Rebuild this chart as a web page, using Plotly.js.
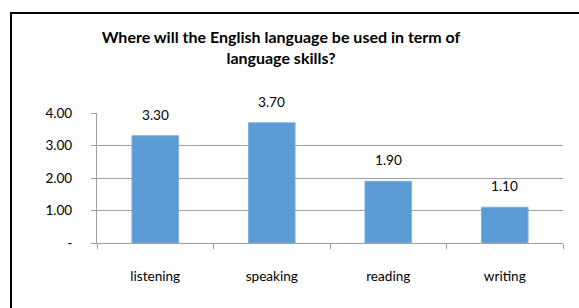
<!DOCTYPE html>
<html>
<head>
<meta charset="utf-8">
<script src="https://cdn.plot.ly/plotly-3.0.1.min.js"></script>
<style>
html,body{margin:0;padding:0;background:#fff;}
#chart{width:579px;height:308px;}
</style>
</head>
<body>
<div id="chart"></div>
<script>
const categories = ["listening", "speaking", "reading", "writing"];
const values = [3.30, 3.70, 1.90, 1.10];
const yTickVals = [0, 1, 2, 3, 4];
const yTickText = ["-", "1.00", "2.00", "3.00", "4.00"];
const titleLines = ["Where will the English language be used in term of", "language skills?"];

const W = 579, H = 308;
const ml = 97, mr = 16, mt = 113, mb = 65;
const pw = W - ml - mr, ph = H - mt - mb;
const px2x = p => (p - ml) / pw;
const py2y = p => (H - mb - p) / ph;

const font = "Lato, 'Liberation Sans', Arial, sans-serif";
const fs = 13.6;

const trace = {
  type: "bar",
  x: categories,
  y: values,
  marker: {color: "#5b9bd5", line: {color: "#7fb0de", width: 1}},
  hoverinfo: "none"
};

const labelAnns = categories.map((c, i) => ({
  x: c, y: values[i], xref: "x", yref: "y",
  text: values[i].toFixed(2),
  showarrow: false, yshift: 21,
  font: {family: font, size: fs, color: "#000"}
}));

const layout = {
  width: W, height: H,
  margin: {l: ml, r: mr, t: mt, b: mb, pad: 0},
  paper_bgcolor: "#fff", plot_bgcolor: "#fff",
  showlegend: false,
  bargap: 0.6,
  font: {family: font, size: fs, color: "#000"},
  title: {
    text: "<b>" + titleLines.join("<br>") + "</b>",
    xref: "paper", x: px2x(281), xanchor: "center",
    yref: "container", y: 1 - 43 / H, yanchor: "middle",
    font: {family: font, size: 16, color: "#000"}
  },
  xaxis: {
    type: "category",
    showgrid: false,
    showline: true, linecolor: "#a0a0a0", linewidth: 1,
    ticks: "outside", tickson: "boundaries", ticklen: 5, tickcolor: "#a0a0a0",
    tickfont: {family: font, size: fs, color: "#000"},
    ticklabelstandoff: 21,
    fixedrange: true
  },
  yaxis: {
    range: [0, 4],
    tickvals: yTickVals, ticktext: yTickText,
    showgrid: true, gridcolor: "#a0a0a0", gridwidth: 1,
    showline: true, linecolor: "#a0a0a0", linewidth: 1,
    ticks: "outside", ticklen: 5, tickcolor: "#a0a0a0",
    tickfont: {family: font, size: fs, color: "#000"},
    ticklabelstandoff: 16,
    zeroline: false,
    fixedrange: true
  },
  annotations: labelAnns,
  shapes: [{
    type: "rect", xref: "paper", yref: "paper", layer: "above",
    x0: px2x(11), x1: px2x(620), y0: py2y(350), y1: py2y(13),
    line: {color: "#000", width: 2}, fillcolor: "rgba(0,0,0,0)"
  }]
};

Plotly.newPlot("chart", [trace], layout, {displayModeBar: false, staticPlot: true});
</script>
</body>
</html>
